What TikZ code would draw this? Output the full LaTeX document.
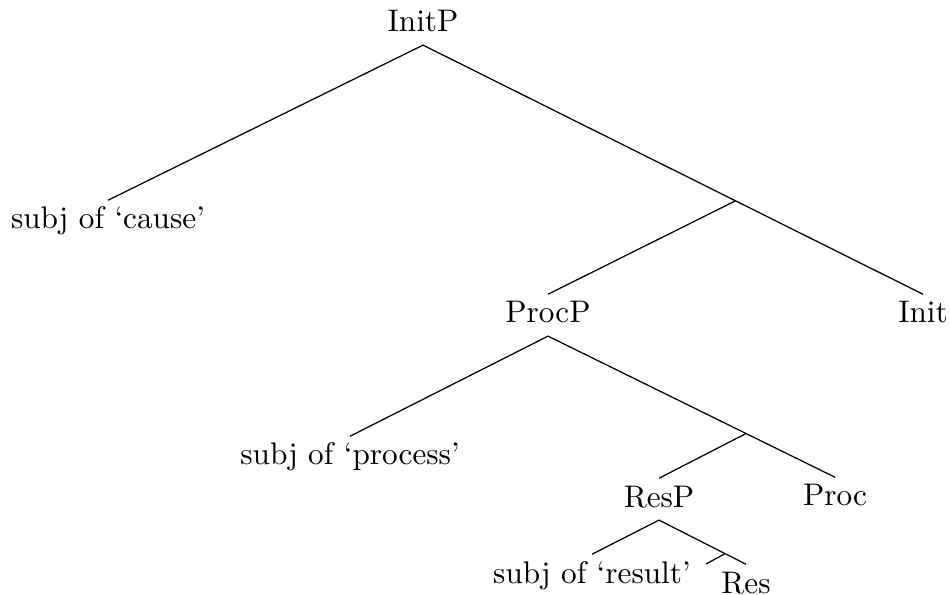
\documentclass[tikz,border=0pt]{standalone}
\usepackage{tikz}
\usetikzlibrary{calc}

\tikzset{lbl/.style={anchor=base, text height=7pt, text depth=2pt, inner ysep=2pt, inner xsep=0pt}}

\begin{document}
\begin{tikzpicture}[x=0.32pt, y=-0.32pt]
        \useasboundingbox (0,0) rectangle (950,595);
        \node[lbl] (initp) at (423,32) {InitP};
        \node[lbl] (cause) at (108,229) {subj of `cause'};
        \node[lbl] (init) at (923,323) {Init};
        \node[lbl] (procp) at (548,323) {ProcP};
        \node[lbl] (process) at (350,465) {subj of `process'};
        \node[lbl] (proc) at (835,506) {Proc};
        \node[lbl] (resp) at (659,507) {ResP};
        \node[lbl] (result) at (592,583) {subj of `result'};
        \node[lbl] (res) at (746,593) {Res};
        \coordinate (j1) at ($(initp.south)!.625!(init.north)$);
        \coordinate (j2) at ($(procp.south)!.69!(proc.north)$);
        \coordinate (j3) at ($(resp.south)!.76!(res.north)$);
        \coordinate (e3) at (706,564);
        \draw (cause.north) -- (initp.south) -- (init.north);
        \draw (j1) -- (procp.north);
        \draw (process.north) -- (procp.south) -- (proc.north);
        \draw (j2) -- (resp.north);
        \draw (result.north) -- (resp.south) -- (res.north);
        \draw (j3) -- (e3);
      \end{tikzpicture}
\end{document}
